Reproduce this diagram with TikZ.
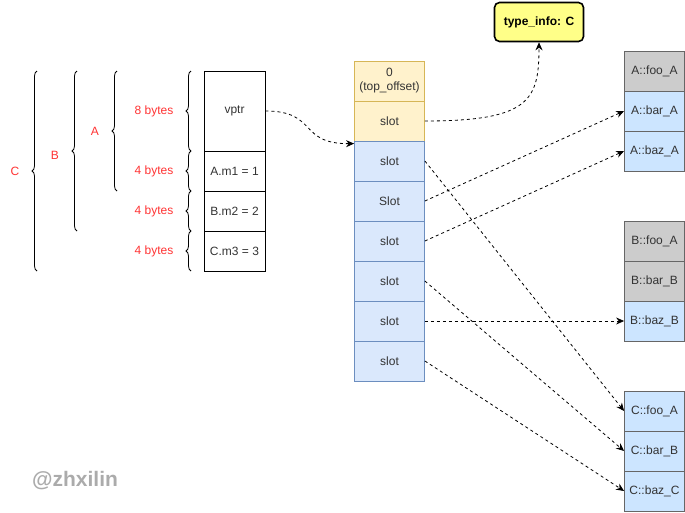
\documentclass[tikz,border=0pt]{standalone}
\usepackage{fontspec}
\setmainfont{Liberation Sans}
\usetikzlibrary{arrows.meta,decorations.pathreplacing,calc}

\definecolor{sizered}{HTML}{FF3333}
\definecolor{slotblue}{HTML}{DAE8FC}
\definecolor{slotblueline}{HTML}{6C8EBF}
\definecolor{slotyellow}{HTML}{FFF2CC}
\definecolor{slotyellowline}{HTML}{D6B656}
\definecolor{funcblue}{HTML}{CCE5FF}
\definecolor{funcgray}{HTML}{CCCCCC}
\definecolor{funcline}{HTML}{666666}
\definecolor{infoyellow}{HTML}{FFFF88}
\definecolor{textgray}{HTML}{333333}

\tikzset{
  box/.style={rectangle, draw, line width=0.8pt, inner sep=0pt,
    minimum width=#1, minimum height=40, text=textgray,
    font=\fontsize{12}{14}\selectfont},
  box/.default=61,
  mem/.style={box, draw=black},
  slotyel/.style={box=70, fill=slotyellow, draw=slotyellowline},
  slotblu/.style={box=70, fill=slotblue, draw=slotblueline},
  fgray/.style={box=60, fill=funcgray, draw=funcline},
  fblue/.style={box=60, fill=funcblue, draw=funcline},
  size/.style={text=sizered, font=\fontsize{12}{14}\selectfont},
  curly/.style={draw, line width=0.8pt, decorate,
    decoration={brace, amplitude=5pt}},
  ptr/.style={draw, line width=0.8pt, dash pattern=on 3pt off 3pt,
    -{Stealth[length=8pt,width=7pt]}},
}

\begin{document}
\begin{tikzpicture}[x=1pt,y=-1pt]
\useasboundingbox (0,0) rectangle (685,512);

% object layout of C
\node[mem, minimum height=80] (vptr) at (234.5,111) {vptr};
\node[mem] (am1) at (234.5,171) {A.m1 = 1};
\node[mem] (bm2) at (234.5,211) {B.m2 = 2};
\node[mem] (cm3) at (234.5,251) {C.m3 = 3};

% sizes
\draw[curly] (191,151) -- (191,71);
\draw[curly] (191,191) -- (191,151);
\draw[curly] (191,231) -- (191,191);
\draw[curly] (191,271) -- (191,231);
\node[size] (s8) at (154,111) {8 bytes};
\node[size] (s4a) at (154,171) {4 bytes};
\node[size] (s4b) at (154,211) {4 bytes};
\node[size] (s4c) at (154,251) {4 bytes};

% sub-objects
\draw[curly] (117,191) -- (117,71);
\node[size] (la) at (95,131) {A};
\draw[curly] (77,231) -- (77,71);
\node[size] (lb) at (55,155) {B};
\draw[curly] (37,271) -- (37,71);
\node[size] (lc) at (15,171) {C};

% vtable
\node[slotyel, align=center] (top) at (389.5,81) {0\\(top\_offset)};
\node[slotyel] (tslot) at (389.5,121) {slot};
\node[slotblu] (slot1) at (389.5,161) {slot};
\node[slotblu] (slot2) at (389.5,201) {Slot};
\node[slotblu] (slot3) at (389.5,241) {slot};
\node[slotblu] (slot4) at (389.5,281) {slot};
\node[slotblu] (slot5) at (389.5,321) {slot};
\node[slotblu] (slot6) at (389.5,361) {slot};

% type info
\node[rectangle, rounded corners=5pt, draw, line width=1.6pt, fill=infoyellow,
  minimum width=89, minimum height=39, inner sep=0pt,
  font=\bfseries\fontsize{12}{14}\selectfont] (tinfo) at (539,22) {type\_info: C};

% functions
\node[fgray] (afoo) at (654.5,71) {A::foo\_A};
\node[fblue] (abar) at (654.5,111) {A::bar\_A};
\node[fblue] (abaz) at (654.5,151) {A::baz\_A};

\node[fgray] (bfoo) at (654.5,241) {B::foo\_A};
\node[fgray] (bbar) at (654.5,281) {B::bar\_B};
\node[fblue] (bbaz) at (654.5,321) {B::baz\_B};

\node[fblue] (cfoo) at (654.5,411) {C::foo\_A};
\node[fblue] (cbar) at (654.5,451) {C::bar\_B};
\node[fblue] (cbaz) at (654.5,491) {C::baz\_C};

% pointers
\draw[ptr] (vptr.east) .. controls (318,111) and (298,144) .. ($(slot1.north west)+(0,3)$);
\draw[ptr] (tslot.east) .. controls (530,121) and (539,100) .. (tinfo.south);
\draw[ptr] (slot1.east) -- (cfoo.west);
\draw[ptr] (slot2.east) -- (abar.west);
\draw[ptr] (slot3.east) -- (abaz.west);
\draw[ptr] (slot4.east) -- (cbar.west);
\draw[ptr] (slot5.east) -- (bbaz.west);
\draw[ptr] (slot6.east) -- (cbaz.west);

\node[text=black!33, font=\bfseries\fontsize{21}{24}\selectfont] (mark) at (75,481) {@zhxilin};
\end{tikzpicture}
\end{document}
